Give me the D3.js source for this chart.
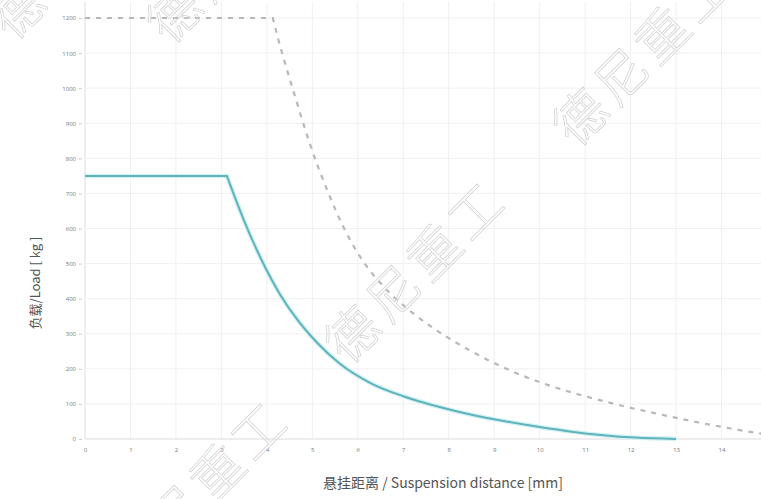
<!DOCTYPE html>
<html><head><meta charset="utf-8">
<script src="https://cdn.jsdelivr.net/npm/d3@7"></script>
<style>body{margin:0;background:#fff}svg{display:block}</style>
</head><body>
<script>
const xTicks = [0,1,2,3,4,5,6,7,8,9,10,11,12,13,14,15];
const yTicks = [0,100,200,300,400,500,600,700,800,900,1000,1100,1200];
const solidX = [0,3.12,3.5,3.9,4.3,4.7,5.1,5.6,6.3,7.0,7.8,8.5,9.3,10.0,10.7,11.4,12.1,13.0];
const solidY = [750,750,622,506,410,335,275,215,158,122,91,69,49,34,21,11,4,0];
const dashX = [0,4.13,4.25,4.6,4.95,5.34,5.7,6.1,6.6,7.2,7.8,8.5,9.27,10.0,10.7,11.4,12.1,12.8,13.5,14.2,14.84,15.1];
const dashY = [1200,1200,1140,985,840,705,600,510,430,360,304,250,200,162,133,108,86,66,47,30,16,11];
const yTitle = "负载/Load [ kg ]";
const xTitle = "悬挂距离 / Suspension distance [mm]";
const wmText = "德尼重工";
const wmStarts = [[350,332],[578,115],[133,552],[15,8],[172,12]];

const W=761,H=499;
const svg=d3.select("body").append("svg").attr("width",W).attr("height",H);
const x=d3.scaleLinear().domain([0,15]).range([85,767]);
const y=d3.scaleLinear().domain([0,1200]).range([439,18]);

// grid
svg.append("g").selectAll("line").data(xTicks).join("line")
 .attr("x1",d=>x(d)).attr("x2",d=>x(d)).attr("y1",2).attr("y2",439)
 .attr("stroke",d=>d===0?"#dcdcdc":"#f0f0f0").attr("stroke-width",1);
svg.append("g").selectAll("line").data(yTicks).join("line")
 .attr("x1",85).attr("x2",W).attr("y1",d=>y(d)).attr("y2",d=>y(d))
 .attr("stroke",d=>d===0?"#dcdcdc":"#f0f0f0").attr("stroke-width",1);

// axes labels
const yAxis=d3.axisLeft(y).tickValues(yTicks).tickFormat(d3.format("d")).tickSize(3).tickPadding(3);
const gy=svg.append("g").attr("transform","translate(82,0)").call(yAxis);
gy.select(".domain").remove();
gy.selectAll("line").attr("stroke","#ccc");
gy.selectAll("text").attr("font-size",6).attr("fill","#777").attr("font-family","Open Sans, sans-serif");
const xAxis=d3.axisBottom(x).tickValues(xTicks).tickFormat(d3.format("d")).tickSize(0).tickPadding(9);
const gx=svg.append("g").attr("transform","translate(0,439)").call(xAxis);
gx.select(".domain").remove();
gx.selectAll("text").attr("font-size",6).attr("fill","#777").attr("font-family","Open Sans, sans-serif");

// lines
const ln=d3.line().x(d=>x(d[0])).y(d=>y(d[1])).curve(d3.curveMonotoneX);
const lnLin=d3.line().x(d=>x(d[0])).y(d=>y(d[1]));
const dashPts=dashX.map((v,i)=>[v,dashY[i]]);
const solidPts=solidX.map((v,i)=>[v,solidY[i]]);
const pathOf=p=>lnLin(p.slice(0,2))+ln(p.slice(1)).replace(/^M/,"L");
svg.append("path").attr("d",pathOf(dashPts))
 .attr("fill","none").attr("stroke","#b8b8b8").attr("stroke-width",2.2).attr("stroke-dasharray","5,6");
svg.append("path").attr("d",pathOf(solidPts))
 .attr("fill","none").attr("stroke","#d3f1f4").attr("stroke-width",4.5);
svg.append("path").attr("d",pathOf(solidPts))
 .attr("fill","none").attr("stroke","#5fb3bb").attr("stroke-width",2);

// titles
svg.append("text").attr("transform","translate(40,283) rotate(-90)").attr("text-anchor","middle")
 .attr("font-size",13).attr("fill","#555").attr("font-family","Noto Sans CJK SC, Open Sans, sans-serif").text(yTitle);
svg.append("text").attr("x",443).attr("y",488).attr("text-anchor","middle")
 .attr("font-size",14).attr("fill","#555").attr("font-family","Noto Sans CJK SC, Open Sans, sans-serif").text(xTitle);

// watermark
const wm=svg.append("g");
wmStarts.forEach(([sx,sy])=>{
  Array.from(wmText).forEach((ch,i)=>{
    const cx=sx+i*41, cy=sy-i*41;
    if(cx<-30||cy<-30||cx>W+30||cy>H+30) return;
    wm.append("text").attr("transform",`translate(${cx},${cy}) rotate(-45)`)
     .attr("text-anchor","middle").attr("dominant-baseline","central")
     .attr("font-size",52).attr("font-family","Noto Sans CJK SC, sans-serif").attr("font-weight",300)
     .attr("fill","none").attr("stroke","#d4d4d4").attr("stroke-width",0.8).text(ch);
  });
});
</script>
</body></html>
